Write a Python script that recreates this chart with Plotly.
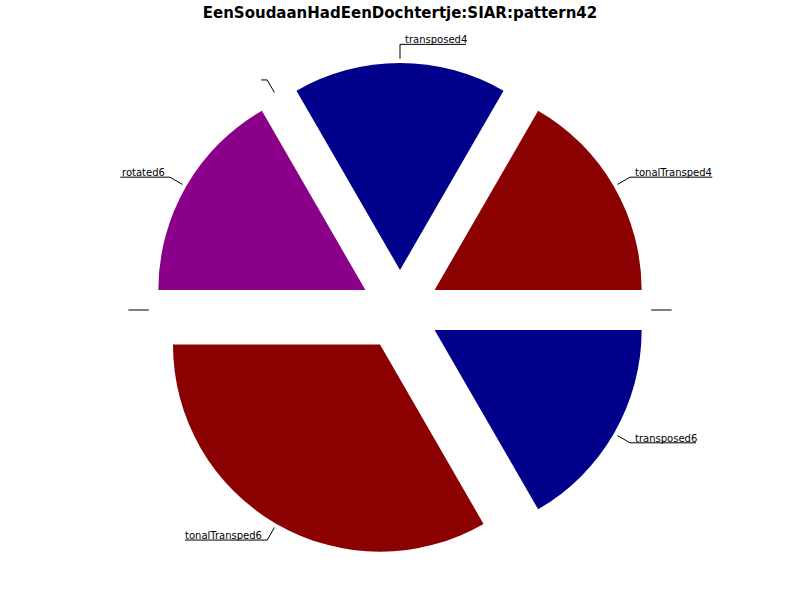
import math
import plotly.graph_objects as go

# ---- data ----
title_text = "EenSoudaanHadEenDochtertje:SIAR:pattern42"
slice_labels = ["transposed4", "tonalTransped4", "", "transposed6", "tonalTransped6", "", "rotated6", ""]
slice_values = [1, 1, 0, 1, 2, 0, 1, 0]
slice_colors = ["#00008B", "#8B0000", "#FFFFFF", "#00008B", "#8B0000", "#FFFFFF", "#8B008B", "#FFFFFF"]
explode = 0.193
start_angle = 120  # degrees, slices run clockwise from here

# ---- layout geometry (figure px) ----
W, H = 800, 600
CX, CY = 400, 310                    # pie centre, from top-left of the figure
BOX = 494                            # square pie box
R_px = BOX / (2 + 2 * explode)       # plotly's pie radius with pull
FONT = "DejaVu Sans"
CHAR_W = 5.45  # approx px per character at 10px

dom_x = [(CX - BOX / 2) / W, (CX + BOX / 2) / W]
dom_y = [1 - (CY + BOX / 2) / H, 1 - (CY - BOX / 2) / H]
x_range = [-CX / R_px, (W - CX) / R_px]
y_range = [-(H - CY) / R_px, CY / R_px]

fig = go.Figure()

pie_idx = [i for i, v in enumerate(slice_values) if v > 0]
fig.add_trace(go.Pie(
    labels=[slice_labels[i] for i in pie_idx],
    values=[slice_values[i] for i in pie_idx],
    marker=dict(colors=[slice_colors[i] for i in pie_idx], line=dict(width=0)),
    pull=[explode] * len(pie_idx),
    sort=False,
    direction="clockwise",
    rotation=90 - start_angle,
    textinfo="none",
    hoverinfo="label+value",
    showlegend=False,
    domain=dict(x=dom_x, y=dom_y),
))

total = sum(slice_values)
cum = 0
annotations = []
for lab, v in zip(slice_labels, slice_values):
    a0 = start_angle - 360 * cum / total
    a1 = a0 - 360 * v / total
    cum += v
    mid = math.radians((a0 + a1) / 2)
    ux, uy = math.cos(mid), math.sin(mid)
    cx, cy = explode * ux, explode * uy
    sx, sy = cx + 1.02 * ux, cy + 1.02 * uy
    ex, ey = cx + 1.09 * ux, cy + 1.09 * uy
    d = 1 if ux >= -1e-9 else -1
    L = (CHAR_W * len(lab) + 6) / R_px
    fig.add_trace(go.Scatter(
        x=[sx, ex, ex + d * L], y=[sy, ey, ey],
        mode="lines", line=dict(color="black", width=1),
        hoverinfo="skip", showlegend=False,
    ))
    if lab:
        annotations.append(dict(
            x=ex + d * 4 / R_px, y=ey, xref="x", yref="y",
            text=lab, showarrow=False,
            xanchor="left" if d > 0 else "right", yanchor="bottom",
            yshift=-2, borderpad=0,
            font=dict(family=FONT, size=10, color="black"),
        ))

fig.update_layout(
    width=W, height=H,
    margin=dict(l=0, r=0, t=0, b=0),
    paper_bgcolor="white", plot_bgcolor="rgba(0,0,0,0)",
    title=dict(text="<b>" + title_text + "</b>", x=0.5, xanchor="center",
               y=1 - 13 / H, yanchor="middle", yref="container",
               font=dict(family=FONT, size=15, color="black")),
    xaxis=dict(range=x_range, visible=False, fixedrange=True, domain=[0, 1]),
    yaxis=dict(range=y_range, visible=False, fixedrange=True, domain=[0, 1]),
    annotations=annotations,
)

fig.write_html("out.html", config={"displayModeBar": False},
               post_script="document.body.style.margin='0';")
